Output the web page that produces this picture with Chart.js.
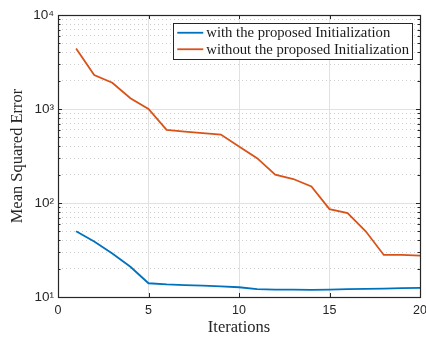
<!DOCTYPE html>
<html>
<head>
<meta charset="utf-8">
<script src="https://cdn.jsdelivr.net/npm/chart.js@4.4.1/dist/chart.umd.min.js"></script>
<style>
  html, body { margin: 0; padding: 0; background: #fff; }
  #wrap { width: 426px; height: 338px; }
</style>
</head>
<body>
<div id="wrap"><canvas id="mse"></canvas></div>
<script>
// Iteration numbers and mean squared error for both runs
const iterations = [1, 2, 3, 4, 5, 6, 7, 8, 9, 10, 11, 12, 13, 14, 15, 16, 17, 18, 19, 20];
const mseWith = [50, 39, 29, 21, 14, 13.6, 13.4, 13.2, 13.0, 12.7, 12.1, 12.0, 12.0, 11.9, 12.0, 12.1, 12.2, 12.3, 12.4, 12.5];
const mseWithout = [4400, 2300, 1900, 1300, 1000, 600, 575, 555, 535, 400, 300, 200, 180, 150, 86, 78, 50, 28, 28, 27.5];
const seriesLabels = ['with the proposed Initialization', 'without the proposed Initialization'];

// Axis ticks
const xTicks = [0, 5, 10, 15, 20];
const yDecades = [10, 100, 1000, 10000];
const yDecadeLabels = ['10¹', '10²', '10³', '10⁴'];
const yMinorSteps = [2, 3, 4, 5, 6, 7, 8, 9];

const AXIS_COLOR = '#262626';
const SERIF = '"Liberation Serif", "DejaVu Serif", serif';
const SANS = '"Liberation Sans", Arial, Helvetica, sans-serif';

const yAllTicks = [];
yDecades.forEach((d, i) => {
  yAllTicks.push(d);
  if (i < yDecades.length - 1) yMinorSteps.forEach(m => yAllTicks.push(m * d));
});

const isDecade = v => yDecades.includes(v);

// MATLAB style box with inward tick marks
const boxTicks = {
  id: 'boxTicks',
  afterDatasetsDraw(chart) {
    const { ctx, chartArea: a, scales } = chart;
    const x = scales.x, y = scales.y;
    ctx.save();
    ctx.strokeStyle = AXIS_COLOR;
    ctx.lineWidth = 1;
    ctx.beginPath();
    xTicks.forEach(v => {
      const px = Math.round(x.getPixelForValue(v)) + 0.5;
      ctx.moveTo(px, a.bottom); ctx.lineTo(px, a.bottom - 4);
      ctx.moveTo(px, a.top); ctx.lineTo(px, a.top + 4);
    });
    yAllTicks.forEach(v => {
      const py = Math.round(y.getPixelForValue(v)) + 0.5;
      const len = isDecade(v) ? 4 : 2.5;
      ctx.moveTo(a.left, py); ctx.lineTo(a.left + len, py);
      ctx.moveTo(a.right, py); ctx.lineTo(a.right - len, py);
    });
    ctx.stroke();
    ctx.lineWidth = 1.2;
    ctx.strokeRect(Math.round(a.left) + 0.5, Math.round(a.top) + 0.5,
      Math.round(a.right - a.left), Math.round(a.bottom - a.top));
    ctx.restore();
  }
};

// Boxed legend in the upper right corner
const boxLegend = {
  id: 'boxLegend',
  afterDraw(chart) {
    const { ctx, chartArea: a } = chart;
    ctx.save();
    ctx.font = '14.7px ' + SERIF;
    const sets = chart.data.datasets;
    const textW = Math.max(...sets.map(d => ctx.measureText(d.label).width));
    const lineLen = 26, rowH = 16.5;
    const w = 4 + lineLen + 3 + textW + 3;
    const h = rowH * sets.length + 3;
    const left = a.right - 8 - w, top = a.top + 8;
    ctx.fillStyle = '#fff';
    ctx.fillRect(left, top, w, h);
    ctx.strokeStyle = AXIS_COLOR;
    ctx.lineWidth = 1;
    ctx.strokeRect(Math.round(left) + 0.5, Math.round(top) + 0.5, Math.round(w), Math.round(h));
    ctx.textBaseline = 'middle';
    sets.forEach((d, i) => {
      const cy = top + 1.5 + rowH * (i + 0.5);
      ctx.strokeStyle = d.borderColor;
      ctx.lineWidth = 1.8;
      ctx.beginPath();
      ctx.moveTo(left + 4, cy); ctx.lineTo(left + 4 + lineLen, cy);
      ctx.stroke();
      ctx.fillStyle = '#1a1a1a';
      ctx.fillText(d.label, left + 4 + lineLen + 3, cy + 0.5);
    });
    ctx.restore();
  }
};

new Chart(document.getElementById('mse'), {
  type: 'line',
  data: {
    labels: iterations,
    datasets: [
      {
        label: seriesLabels[0],
        data: iterations.map((it, i) => ({ x: it, y: mseWith[i] })),
        borderColor: '#0072BD',
        borderWidth: 1.8,
        pointRadius: 0,
        tension: 0
      },
      {
        label: seriesLabels[1],
        data: iterations.map((it, i) => ({ x: it, y: mseWithout[i] })),
        borderColor: '#D95319',
        borderWidth: 1.8,
        pointRadius: 0,
        tension: 0
      }
    ]
  },
  options: {
    responsive: true,
    maintainAspectRatio: false,
    animation: false,
    layout: { padding: { top: 15, right: 6, left: 8, bottom: 0 } },
    plugins: {
      legend: { display: false },
      tooltip: { enabled: false }
    },
    scales: {
      x: {
        type: 'linear',
        min: 0,
        max: 20,
        afterBuildTicks: s => { s.ticks = xTicks.map(v => ({ value: v })); },
        afterFit: s => { s.height = 41; s.paddingLeft = 0; s.paddingRight = 0; },
        grid: { color: '#e1e1e1', lineWidth: 1, drawTicks: false },
        border: { display: false },
        ticks: {
          color: AXIS_COLOR,
          font: { family: SANS, size: 12.5 },
          padding: 6,
          maxRotation: 0
        },
        title: {
          display: true,
          text: 'Iterations',
          color: '#262626',
          font: { family: SERIF, size: 16.5 },
          padding: { top: 0, bottom: 0 }
        }
      },
      y: {
        type: 'logarithmic',
        min: 10,
        max: 10000,
        afterBuildTicks: s => { s.ticks = yAllTicks.map(v => ({ value: v, major: isDecade(v) })); },
        afterFit: s => { s.width = 50; s.paddingTop = 0; s.paddingBottom = 0; },
        grid: {
          drawTicks: false,
          lineWidth: 1,
          color: c => (c.tick && isDecade(c.tick.value)) ? '#e1e1e1' : '#cdcdcd'
        },
        border: {
          display: false,
          dash: c => (c.tick && !isDecade(c.tick.value)) ? [1, 3] : []
        },
        ticks: {
          color: AXIS_COLOR,
          font: { family: SANS, size: 13.5 },
          padding: 4,
          autoSkip: false,
          callback: v => isDecade(v) ? yDecadeLabels[yDecades.indexOf(v)] : ''
        },
        title: {
          display: true,
          text: 'Mean Squared Error',
          color: '#262626',
          font: { family: SERIF, size: 16.5 },
          padding: { top: 0, bottom: 4 }
        }
      }
    }
  },
  plugins: [boxTicks, boxLegend]
});
</script>
</body>
</html>
